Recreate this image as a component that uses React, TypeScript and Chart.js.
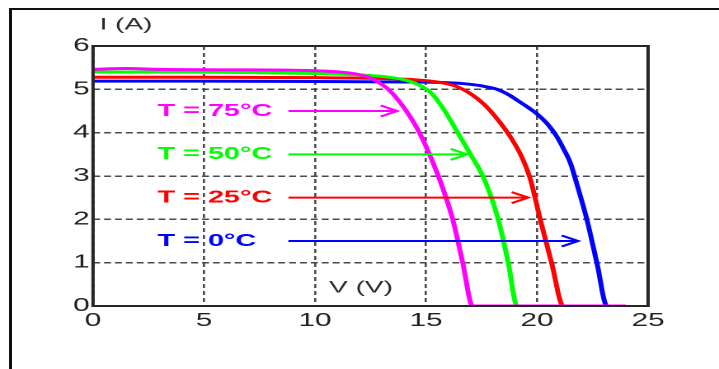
import React, { useEffect, useRef } from 'react';
import { Chart, registerables } from 'chart.js';

Chart.register(...registerables);

// ---------------- data ----------------
const seriesNames = ['T = 75°C', 'T = 50°C', 'T = 25°C', 'T = 0°C'];
const seriesColors = ['#ff00ff', '#00ff00', '#ff0000', '#0000ff'];

const v75 = [0, 1.5, 3, 6, 9, 10.5, 11.5, 12.3, 12.8, 13.3, 14.0, 14.7, 15.55, 16.2, 16.65, 17.1, 24];
const i75 = [5.46, 5.48, 5.46, 5.45, 5.44, 5.42, 5.38, 5.3, 5.18, 5.0, 4.58, 4.0, 3.0, 2.0, 1.0, 0, 0];

const v50 = [0, 4, 8, 11, 13, 14, 14.6, 15.2, 15.78, 16.4, 17.0, 17.6, 18.25, 18.7, 19.1, 24];
const i50 = [5.4, 5.4, 5.38, 5.35, 5.3, 5.22, 5.12, 4.93, 4.55, 4.02, 3.5, 2.95, 2.0, 1.0, 0, 0];

const v25 = [0, 5, 10, 13, 14.5, 15.5, 16.3, 17.0, 17.6, 18.2, 18.8, 19.3, 19.7, 20.15, 20.66, 21.18, 24];
const i25 = [5.28, 5.28, 5.27, 5.25, 5.22, 5.17, 5.08, 4.9, 4.66, 4.32, 3.9, 3.45, 2.92, 1.98, 0.98, 0, 0];

const v0 = [0, 5, 10, 14, 15.5, 16.7, 17.5, 18.2, 18.7, 19.1, 19.6, 20.0, 20.5, 20.9, 21.2, 21.5, 21.8, 22.25, 22.7, 23.15, 24];
const i0 = [5.19, 5.19, 5.18, 5.17, 5.16, 5.13, 5.08, 5.0, 4.88, 4.75, 4.58, 4.43, 4.18, 3.9, 3.62, 3.3, 2.8, 1.98, 0.98, 0, 0];

const seriesV = [v75, v50, v25, v0];
const seriesI = [i75, i50, i25, i0];

const xTicks = [0, 5, 10, 15, 20, 25];
const yTicks = [0, 1, 2, 3, 4, 5, 6];

const labelV = 2.9;
const labelI = [4.5, 3.5, 2.5, 1.5];
const arrowStartV = 8.8;
const arrowEndV = [13.7, 16.85, 19.6, 21.85];

const xTitle = 'V (V)';
const xTitleV = 12.07;
const xTitleI = 0.42;
const yTitle = 'I (A)';

// ---------------- layout ----------------
const W = 719;
const H = 369;
const CW = 436; // canvas width before horizontal stretch
const S = W / CW;
const FONT = 'Arial, "Liberation Sans", sans-serif';

const overlay = {
  id: 'overlay',
  afterDatasetsDraw(chart: any) {
    const { ctx, chartArea: a, scales } = chart;
    const x = scales.x;
    const y = scales.y;
    ctx.save();
    // axes box
    ctx.strokeStyle = '#262626';
    ctx.lineWidth = 2;
    ctx.setLineDash([]);
    ctx.strokeRect(a.left, a.top, a.right - a.left, a.bottom - a.top);

    // temperature labels with arrows
    ctx.font = `bold 17.5px ${FONT}`;
    ctx.textBaseline = 'middle';
    ctx.textAlign = 'left';
    seriesNames.forEach((name, k) => {
      const yy = y.getPixelForValue(labelI[k]);
      ctx.fillStyle = seriesColors[k];
      ctx.fillText(name, x.getPixelForValue(labelV), yy);
      const x0 = x.getPixelForValue(arrowStartV);
      const x1 = x.getPixelForValue(arrowEndV[k]);
      ctx.strokeStyle = seriesColors[k];
      ctx.lineWidth = 2;
      ctx.beginPath();
      ctx.moveTo(x0, yy);
      ctx.lineTo(x1, yy);
      ctx.stroke();
      ctx.beginPath();
      ctx.moveTo(x1 - 10, yy - 5.5);
      ctx.lineTo(x1, yy);
      ctx.lineTo(x1 - 10, yy + 5.5);
      ctx.stroke();
    });

    // axis titles
    ctx.font = `17px ${FONT}`;
    ctx.fillStyle = '#2e2a26';
    ctx.textAlign = 'center';
    ctx.fillText(xTitle, x.getPixelForValue(xTitleV), y.getPixelForValue(xTitleI));
    ctx.fillText(yTitle, a.left + 20, a.top - 21);
    ctx.restore();
  },
};

export default function App() {
  const ref = useRef<HTMLCanvasElement | null>(null);

  useEffect(() => {
    if (!ref.current) return;
    const datasets = seriesNames.map((name, k) => ({
      label: name,
      data: seriesV[k].map((v, j) => ({ x: v, y: seriesI[k][j] })),
      borderColor: seriesColors[k],
      backgroundColor: seriesColors[k],
      borderWidth: 3,
      pointRadius: 0,
      fill: false,
      cubicInterpolationMode: 'monotone' as const,
    }));

    const chart = new Chart(ref.current, {
      type: 'line',
      data: { datasets },
      plugins: [overlay],
      options: {
        animation: false,
        responsive: false,
        devicePixelRatio: 2,
        layout: { padding: { left: 0, right: 43, top: 46, bottom: 0 } },
        plugins: { legend: { display: false }, tooltip: { enabled: false }, title: { display: false } },
        scales: {
          x: {
            type: 'linear',
            min: 0,
            max: 25,
            afterBuildTicks: (s: any) => {
              s.ticks = xTicks.map((v) => ({ value: v }));
            },
            afterFit: (s: any) => {
              s.height = H - 306;
            },
            ticks: {
              color: '#222',
              font: { family: FONT, size: 18 },
              padding: 4,
              maxRotation: 0,
              autoSkip: false,
            },
            grid: { color: '#4a4a4a', lineWidth: 1.3, drawTicks: false },
            border: { display: false, dash: [4, 3] },
          },
          y: {
            type: 'linear',
            min: 0,
            max: 6,
            afterBuildTicks: (s: any) => {
              s.ticks = yTicks.map((v) => ({ value: v }));
            },
            afterFit: (s: any) => {
              s.width = 56.4;
            },
            ticks: {
              color: '#222',
              font: { family: FONT, size: 18 },
              padding: 2,
              autoSkip: false,
            },
            grid: { color: '#4a4a4a', lineWidth: 1.5, drawTicks: false },
            border: { display: false, dash: [4.2, 2.4] },
          },
        },
      },
    });
    return () => chart.destroy();
  }, []);

  return (
    <div
      style={{
        position: 'absolute',
        left: 0,
        top: 0,
        width: W,
        height: H,
        overflow: 'hidden',
        background: '#fff',
      }}
    >
      <div
        style={{
          position: 'absolute',
          left: 9,
          top: 8,
          right: -5,
          bottom: -5,
          borderTop: '2px solid #111',
          borderLeft: '3px solid #111',
        }}
      />
      <div
        style={{
          position: 'absolute',
          left: 0,
          top: 0,
          width: CW,
          height: H,
          transform: `scaleX(${S})`,
          transformOrigin: '0 0',
        }}
      >
        <canvas ref={ref} width={CW} height={H} style={{ width: CW, height: H, display: 'block' }} />
      </div>
    </div>
  );
}
